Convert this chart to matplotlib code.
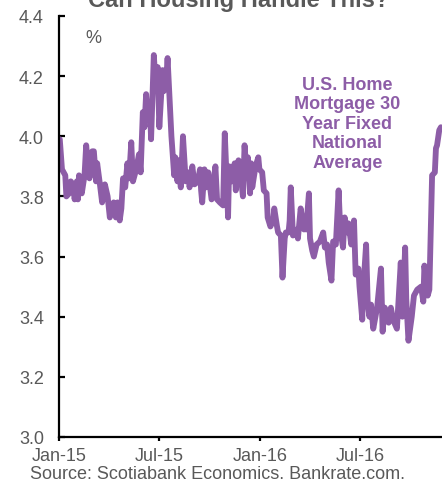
import matplotlib
matplotlib.use("Agg")
import matplotlib.pyplot as plt
import pandas as pd

plt.rcParams['font.family'] = ['Liberation Sans', 'DejaVu Sans']

# 30yr fixed mortgage rate (%)
dates = [
    "2015-01-02", "2015-01-06", "2015-01-12", "2015-01-14", "2015-01-19", "2015-01-22",
    "2015-01-26", "2015-01-29", "2015-02-02", "2015-02-04", "2015-02-06", "2015-02-11",
    "2015-02-16", "2015-02-19", "2015-02-23", "2015-02-25", "2015-03-02", "2015-03-05",
    "2015-03-09", "2015-03-11", "2015-03-16", "2015-03-20", "2015-03-25", "2015-03-30",
    "2015-04-03", "2015-04-06", "2015-04-10", "2015-04-14", "2015-04-17", "2015-04-21",
    "2015-04-24", "2015-04-27", "2015-05-01", "2015-05-05", "2015-05-08", "2015-05-12",
    "2015-05-15", "2015-05-21", "2015-05-26", "2015-05-29", "2015-06-02", "2015-06-05",
    "2015-06-08", "2015-06-11", "2015-06-15", "2015-06-17", "2015-06-22", "2015-06-25",
    "2015-06-29", "2015-07-02", "2015-07-08", "2015-07-10", "2015-07-15", "2015-07-17",
    "2015-07-21", "2015-07-24", "2015-07-29", "2015-07-31", "2015-08-04", "2015-08-07",
    "2015-08-10", "2015-08-14", "2015-08-19", "2015-08-24", "2015-08-26", "2015-08-31",
    "2015-09-04", "2015-09-10", "2015-09-14", "2015-09-16", "2015-09-18", "2015-09-22",
    "2015-09-25", "2015-09-29", "2015-10-05", "2015-10-12", "2015-10-15", "2015-10-20",
    "2015-10-26", "2015-10-29", "2015-11-02", "2015-11-04", "2015-11-06", "2015-11-11",
    "2015-11-16", "2015-11-18", "2015-11-23", "2015-11-27", "2015-12-01", "2015-12-04",
    "2015-12-08", "2015-12-10", "2015-12-14", "2015-12-16", "2015-12-18", "2015-12-24",
    "2015-12-29", "2015-12-31", "2016-01-05", "2016-01-08", "2016-01-13", "2016-01-15",
    "2016-01-20", "2016-01-25", "2016-01-27", "2016-02-01", "2016-02-03", "2016-02-08",
    "2016-02-11", "2016-02-15", "2016-02-17", "2016-02-22", "2016-02-24", "2016-02-26",
    "2016-03-01", "2016-03-08", "2016-03-10", "2016-03-15", "2016-03-21", "2016-03-23",
    "2016-03-25", "2016-03-30", "2016-04-01", "2016-04-05", "2016-04-08", "2016-04-13",
    "2016-04-19", "2016-04-25", "2016-04-28", "2016-05-02", "2016-05-05", "2016-05-10",
    "2016-05-13", "2016-05-18", "2016-05-23", "2016-05-26", "2016-05-31", "2016-06-03",
    "2016-06-08", "2016-06-10", "2016-06-15", "2016-06-20", "2016-06-23", "2016-06-28",
    "2016-06-30", "2016-07-05", "2016-07-06", "2016-07-12", "2016-07-15", "2016-07-18",
    "2016-07-21", "2016-07-25", "2016-08-01", "2016-08-08", "2016-08-11", "2016-08-15",
    "2016-08-22", "2016-08-26", "2016-08-30", "2016-09-06", "2016-09-13", "2016-09-16",
    "2016-09-21", "2016-09-23", "2016-09-27", "2016-10-03", "2016-10-07", "2016-10-13",
    "2016-10-20", "2016-10-24", "2016-10-26", "2016-11-01", "2016-11-04", "2016-11-09",
    "2016-11-14", "2016-11-16", "2016-11-18", "2016-11-22", "2016-11-25",
]
rates = [
    3.99, 3.89, 3.87, 3.80, 3.81, 3.85,
    3.84, 3.79, 3.85, 3.79, 3.87, 3.81,
    3.87, 3.97, 3.89, 3.86, 3.95, 3.95,
    3.85, 3.91, 3.84, 3.78, 3.84, 3.80,
    3.73, 3.77, 3.78, 3.73, 3.78, 3.72,
    3.76, 3.86, 3.83, 3.91, 3.86, 3.98,
    3.85, 3.89, 3.94, 3.88, 4.08, 4.03,
    4.14, 4.07, 4.10, 3.99, 4.27, 4.18,
    4.23, 4.03, 4.22, 4.15, 4.20, 4.26,
    4.11, 4.00, 3.87, 3.93, 3.85, 3.92,
    3.83, 4.00, 3.85, 3.88, 3.83, 3.90,
    3.84, 3.85, 3.89, 3.82, 3.78, 3.89,
    3.83, 3.88, 3.79, 3.90, 3.79, 3.78,
    3.77, 4.01, 3.83, 3.73, 3.90, 3.85,
    3.91, 3.82, 3.92, 3.87, 3.80, 3.97,
    3.87, 3.93, 3.81, 3.91, 3.83, 3.90,
    3.93, 3.89, 3.88, 3.82, 3.81, 3.73,
    3.70, 3.72, 3.76, 3.70, 3.68, 3.67,
    3.53, 3.66, 3.68, 3.68, 3.72, 3.83,
    3.67, 3.69, 3.66, 3.76, 3.69, 3.72,
    3.69, 3.81, 3.66, 3.62, 3.60, 3.64,
    3.65, 3.68, 3.63, 3.64, 3.58, 3.52,
    3.65, 3.64, 3.82, 3.69, 3.63, 3.73,
    3.68, 3.71, 3.64, 3.72, 3.54, 3.56,
    3.50, 3.39, 3.47, 3.64, 3.44, 3.40,
    3.44, 3.36, 3.43, 3.56, 3.35, 3.43,
    3.38, 3.43, 3.39, 3.36, 3.58, 3.40,
    3.63, 3.46, 3.32, 3.40, 3.47, 3.49,
    3.50, 3.45, 3.57, 3.47, 3.49, 3.87,
    3.88, 3.96, 3.97, 4.02, 4.03,
]

tick_dates = ["2015-01-01", "2015-07-01", "2016-01-01", "2016-07-01"]
tick_labels = ["Jan-15", "Jul-15", "Jan-16", "Jul-16"]
y_ticks = [3.0, 3.2, 3.4, 3.6, 3.8, 4.0, 4.2, 4.4]

purple = '#8d5da7'
grey = '#595959'

df = pd.DataFrame({'Date': pd.to_datetime(dates), 'Rate': rates}).set_index('Date')

fig = plt.figure(figsize=(4.42, 4.85), dpi=100)
ax = fig.add_axes([0.134, 0.097, 0.866, 0.868])
ax.plot(df.index, df['Rate'], color=purple, linewidth=4.2, solid_joinstyle='round',
        solid_capstyle='round')

ax.set_xlim(pd.Timestamp("2015-01-01"), pd.Timestamp("2016-11-27"))
ax.set_ylim(3.0, 4.4)
ax.set_yticks(y_ticks)
ax.set_yticklabels([f"{v:.1f}" for v in y_ticks])
ax.set_xticks(pd.to_datetime(tick_dates))
ax.set_xticklabels(tick_labels)

for side in ['top', 'right']:
    ax.spines[side].set_visible(False)
for side in ['left', 'bottom']:
    ax.spines[side].set_linewidth(1.6)
    ax.spines[side].set_color('black')

ax.tick_params(axis='y', direction='in', length=4, width=1.6, pad=11,
               labelsize=13, labelcolor=grey)
ax.tick_params(axis='x', direction='out', length=3, width=1.6, pad=4.5,
               labelsize=13, labelcolor=grey)

ax.text(0.068, 0.97, '%', transform=ax.transAxes, fontsize=13, color=grey,
        ha='left', va='top')
ax.text(0.753, 0.745, 'U.S. Home\nMortgage 30\nYear Fixed\nNational\nAverage',
        transform=ax.transAxes, fontsize=13, fontweight='bold', color=purple,
        ha='center', va='center', linespacing=1.2)

fig.text(0.541, 0.9856, 'Can Housing Handle This?', fontsize=17, fontweight='bold',
         color=grey, ha='center', va='baseline')
fig.text(0.068, 0.012, 'Source: Scotiabank Economics. Bankrate.com.', fontsize=13,
         color=grey, ha='left', va='baseline')

fig.savefig('out.png', dpi=100)
